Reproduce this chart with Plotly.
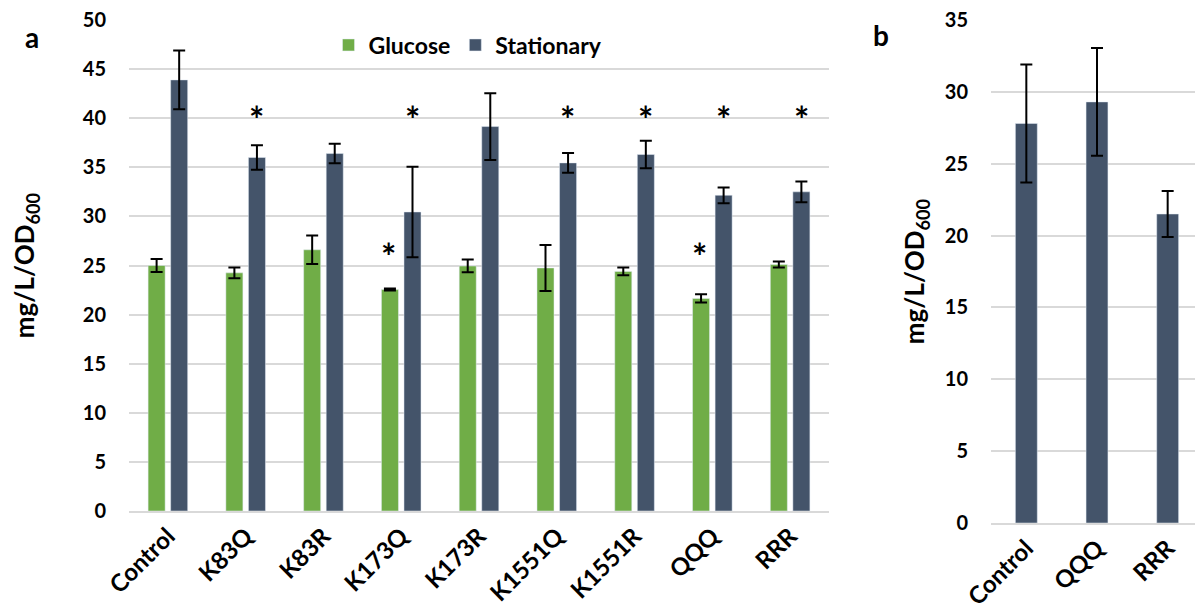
import plotly.graph_objects as go

# ---- data: panel a ----
strains_a = ["Control", "K83Q", "K83R", "K173Q", "K173R", "K1551Q", "K1551R", "QQQ", "RRR"]
glucose = [25.0, 24.25, 26.6, 22.55, 24.95, 24.75, 24.4, 21.65, 25.1]
glucose_err = [0.65, 0.55, 1.45, 0.1, 0.65, 2.35, 0.4, 0.42, 0.3]
stationary = [43.9, 36.0, 36.4, 30.45, 39.15, 35.45, 36.3, 32.15, 32.5]
stationary_err = [3.0, 1.25, 1.0, 4.6, 3.4, 1.0, 1.4, 0.8, 1.05]
# significance markers: (strain, series)
sig_a = [("K83Q", "Stationary"), ("K173Q", "Stationary"), ("K173Q", "Glucose"),
         ("K1551Q", "Stationary"), ("K1551R", "Stationary"), ("QQQ", "Glucose"),
         ("QQQ", "Stationary"), ("RRR", "Stationary")]
sig_level = {"Stationary": 39.95, "Glucose": 26.0}

# ---- data: panel b ----
strains_b = ["Control", "QQQ", "RRR"]
stat_b = [27.8, 29.3, 21.5]
stat_b_err = [4.1, 3.75, 1.6]

GREEN = "#70AD47"
NAVY = "#44546A"
FONT = "Lato"
GRID = "#D9D9D9"

# page body has an 8px margin; figure sized to fill the rest of the window
OFF = 8
W, H = 1195, 602
ML, MR, MT, MB = 121, 0, 12, 87
PW = W - ML - MR
PH = H - MT - MB


def sx(x_screen):
    return (x_screen - OFF - ML) / PW


def sy(y_screen):
    return (H - MB - (y_screen - OFF)) / PH


fig = go.Figure()
err_style = dict(type="data", color="black", thickness=2, width=6)

fig.add_trace(go.Bar(name="Glucose", x=strains_a, y=glucose, marker_color=GREEN,
                     error_y=dict(array=glucose_err, **err_style),
                     xaxis="x", yaxis="y"))
fig.add_trace(go.Bar(name="Stationary", x=strains_a, y=stationary, marker_color=NAVY,
                     error_y=dict(array=stationary_err, **err_style),
                     xaxis="x", yaxis="y"))
fig.add_trace(go.Bar(name="Stationary", x=strains_b, y=stat_b, marker_color=NAVY,
                     error_y=dict(array=stat_b_err, **err_style), width=0.31,
                     showlegend=False, xaxis="x2", yaxis="y2"))

ytickfont = dict(family=FONT, size=20, color="black", weight="bold")
xtickfont = dict(family=FONT, size=24, color="black", weight="bold")
titlefont = dict(family=FONT, size=26, color="black", weight="bold")

yaxis_common = dict(showgrid=True, gridcolor=GRID, gridwidth=1.5, zeroline=False,
                    showline=False, tickfont=ytickfont, dtick=5, ticklabelstandoff=22,
                    ticklabeloverflow="allow", automargin=False)
xaxis_common = dict(tickangle=-45, showgrid=False, zeroline=False, showline=True,
                    linecolor=GRID, linewidth=1.5, tickfont=xtickfont, ticks="",
                    ticklabeloverflow="allow", automargin=False)

fig.update_layout(
    width=W, height=H,
    margin=dict(l=ML, r=MR, t=MT, b=MB),
    plot_bgcolor="white", paper_bgcolor="white",
    barmode="group", bargap=0.42, bargroupgap=0.245,
    font=dict(family=FONT, color="black"),
    xaxis=dict(domain=[0, sx(829)], anchor="y", **xaxis_common),
    yaxis=dict(domain=[sy(511), 1], anchor="x", range=[0, 50],
               title=dict(text="mg/L/OD<sub>600</sub>", font=titlefont, standoff=40),
               **yaxis_common),
    xaxis2=dict(domain=[sx(991), 1.0], anchor="y2", **xaxis_common),
    yaxis2=dict(domain=[0, 1], anchor="x2", range=[0, 35],
                title=dict(text="mg/L/OD<sub>600</sub>", font=titlefont, standoff=12),
                **yaxis_common),
    legend=dict(orientation="h", x=sx(468), xanchor="center", y=sy(45), yanchor="middle",
                font=dict(family=FONT, size=23, color="black", weight="bold"),
                bgcolor="rgba(0,0,0,0)", itemwidth=30),
)

annotations = []
for strain, series in sig_a:
    annotations.append(dict(x=strain, y=sig_level[series], xref="x", yref="y",
                            text="*", showarrow=False, yanchor="middle",
                            xshift=11 if series == "Stationary" else -13,
                            font=dict(family=FONT, size=36, color="black", weight="bold")))
annotations.append(dict(x=sx(32), y=sy(37), xref="paper", yref="paper", text="a",
                        showarrow=False, xanchor="center", yanchor="middle",
                        font=dict(family=FONT, size=28, color="black", weight="bold")))
annotations.append(dict(x=sx(881), y=sy(35), xref="paper", yref="paper", text="b",
                        showarrow=False, xanchor="center", yanchor="middle",
                        font=dict(family=FONT, size=28, color="black", weight="bold")))
fig.update_layout(annotations=annotations)

fig.write_html("out.html")
